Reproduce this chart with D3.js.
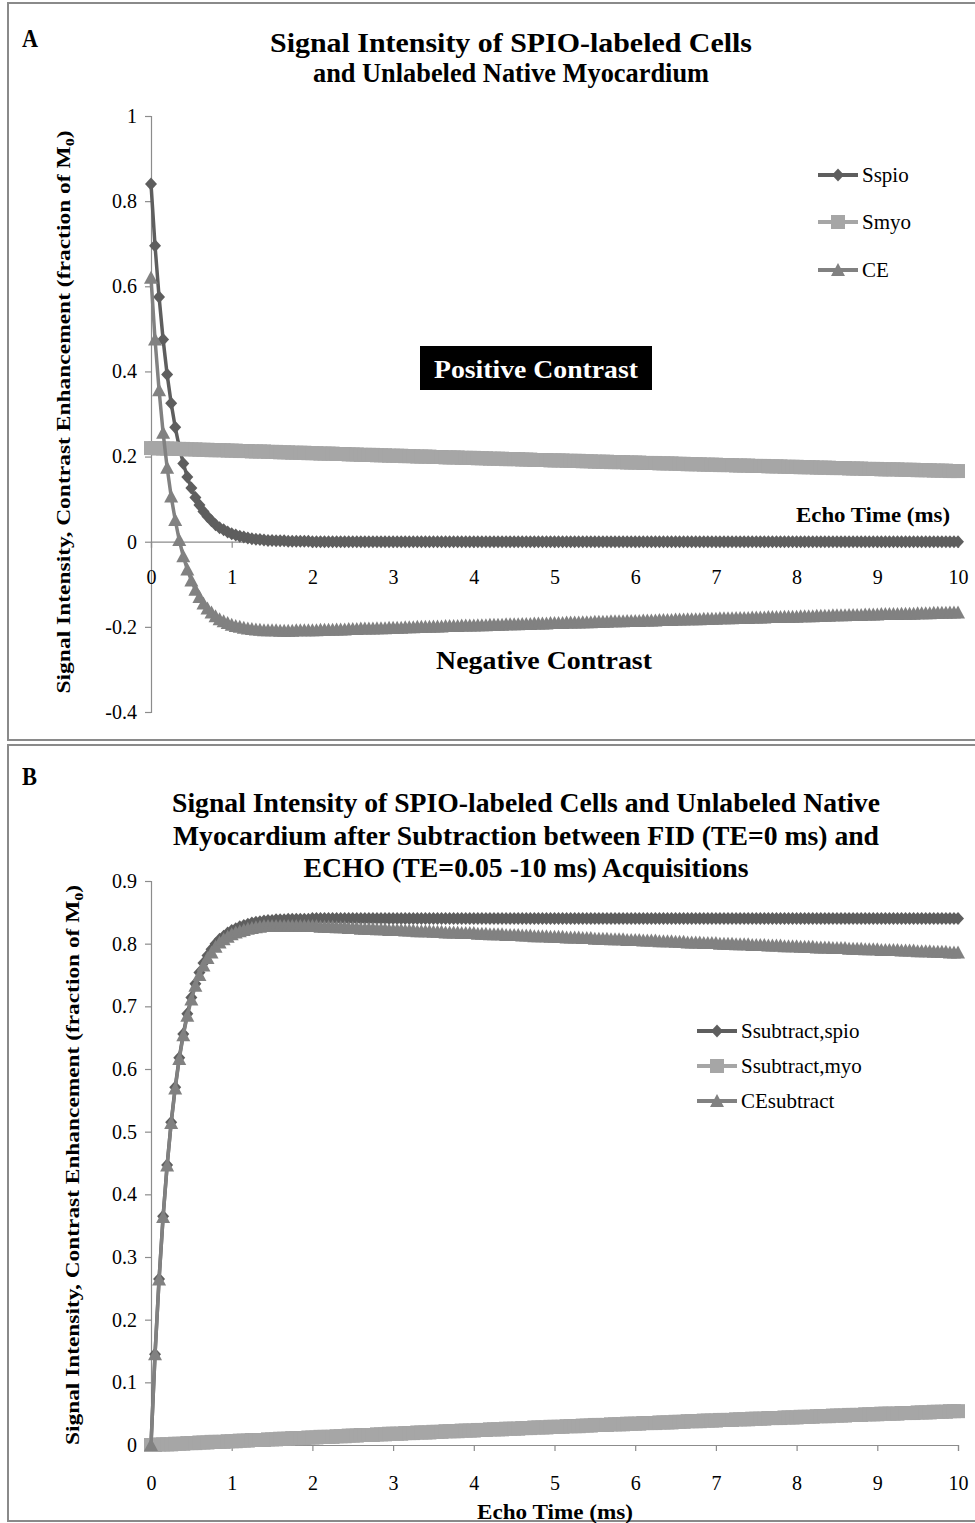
<!DOCTYPE html>
<html>
<head>
<meta charset="utf-8">
<script src="https://cdn.jsdelivr.net/npm/d3@7"></script>
<style>
body { margin: 0; background: #fff; }
svg text { font-family: "Liberation Serif", "Times New Roman", serif; }
</style>
</head>
<body>
<script>
// echo times (ms), one point every 0.05 ms
var echoTime = [
0,0.05,0.1,0.15,0.2,0.25,0.3,0.35,0.4,0.45,0.5,0.55,0.6,0.65,0.7,0.75,0.8,0.85,0.9,0.95,
1,1.05,1.1,1.15,1.2,1.25,1.3,1.35,1.4,1.45,1.5,1.55,1.6,1.65,1.7,1.75,1.8,1.85,1.9,1.95,
2,2.05,2.1,2.15,2.2,2.25,2.3,2.35,2.4,2.45,2.5,2.55,2.6,2.65,2.7,2.75,2.8,2.85,2.9,2.95,
3,3.05,3.1,3.15,3.2,3.25,3.3,3.35,3.4,3.45,3.5,3.55,3.6,3.65,3.7,3.75,3.8,3.85,3.9,3.95,
4,4.05,4.1,4.15,4.2,4.25,4.3,4.35,4.4,4.45,4.5,4.55,4.6,4.65,4.7,4.75,4.8,4.85,4.9,4.95,
5,5.05,5.1,5.15,5.2,5.25,5.3,5.35,5.4,5.45,5.5,5.55,5.6,5.65,5.7,5.75,5.8,5.85,5.9,5.95,
6,6.05,6.1,6.15,6.2,6.25,6.3,6.35,6.4,6.45,6.5,6.55,6.6,6.65,6.7,6.75,6.8,6.85,6.9,6.95,
7,7.05,7.1,7.15,7.2,7.25,7.3,7.35,7.4,7.45,7.5,7.55,7.6,7.65,7.7,7.75,7.8,7.85,7.9,7.95,
8,8.05,8.1,8.15,8.2,8.25,8.3,8.35,8.4,8.45,8.5,8.55,8.6,8.65,8.7,8.75,8.8,8.85,8.9,8.95,
9,9.05,9.1,9.15,9.2,9.25,9.3,9.35,9.4,9.45,9.5,9.55,9.6,9.65,9.7,9.75,9.8,9.85,9.9,9.95,
10];

// panel A
var sSpio = [
0.84,0.695,0.575,0.475,0.393,0.325,0.269,0.222,0.184,0.152,
0.126,0.104,0.086,0.071,0.059,0.049,0.04,0.033,0.028,0.023,
0.019,0.016,0.013,0.011,0.009,0.007,0.006,0.005,0.004,0.003,
0.003,0.002,0.002,0.002,0.001,0.001,0.001,0.001,0.001,0.001,
0,0,0,0,0,0,0,0,0,0,0,0,0,0,0,0,0,0,0,0,
0,0,0,0,0,0,0,0,0,0,0,0,0,0,0,0,0,0,0,0,
0,0,0,0,0,0,0,0,0,0,0,0,0,0,0,0,0,0,0,0,
0,0,0,0,0,0,0,0,0,0,0,0,0,0,0,0,0,0,0,0,
0,0,0,0,0,0,0,0,0,0,0,0,0,0,0,0,0,0,0,0,
0,0,0,0,0,0,0,0,0,0,0,0,0,0,0,0,0,0,0,0,
0,0,0,0,0,0,0,0,0,0,0,0,0,0,0,0,0,0,0,0,
0,0,0,0,0,0,0,0,0,0,0,0,0,0,0,0,0,0,0,0,
0];

var sMyo = [
0.22,0.22,0.219,0.219,0.219,0.219,0.218,0.218,0.218,0.217,
0.217,0.217,0.216,0.216,0.216,0.215,0.215,0.215,0.215,0.214,
0.214,0.214,0.213,0.213,0.213,0.212,0.212,0.212,0.212,0.211,
0.211,0.211,0.21,0.21,0.21,0.209,0.209,0.209,0.209,0.208,
0.208,0.208,0.207,0.207,0.207,0.207,0.206,0.206,0.206,0.205,
0.205,0.205,0.204,0.204,0.204,0.204,0.203,0.203,0.203,0.202,
0.202,0.202,0.202,0.201,0.201,0.201,0.2,0.2,0.2,0.2,
0.199,0.199,0.199,0.198,0.198,0.198,0.198,0.197,0.197,0.197,
0.197,0.196,0.196,0.196,0.195,0.195,0.195,0.195,0.194,0.194,
0.194,0.194,0.193,0.193,0.193,0.192,0.192,0.192,0.192,0.191,
0.191,0.191,0.191,0.19,0.19,0.19,0.19,0.189,0.189,0.189,
0.188,0.188,0.188,0.188,0.187,0.187,0.187,0.187,0.186,0.186,
0.186,0.186,0.185,0.185,0.185,0.185,0.184,0.184,0.184,0.184,
0.183,0.183,0.183,0.182,0.182,0.182,0.182,0.181,0.181,0.181,
0.181,0.18,0.18,0.18,0.18,0.179,0.179,0.179,0.179,0.178,
0.178,0.178,0.178,0.177,0.177,0.177,0.177,0.176,0.176,0.176,
0.176,0.175,0.175,0.175,0.175,0.174,0.174,0.174,0.174,0.173,
0.173,0.173,0.173,0.172,0.172,0.172,0.172,0.171,0.171,0.171,
0.171,0.17,0.17,0.17,0.17,0.17,0.169,0.169,0.169,0.169,
0.168,0.168,0.168,0.168,0.167,0.167,0.167,0.167,0.166,0.166,
0.166];

var ce = [
0.62,0.475,0.356,0.256,0.174,0.106,0.051,0.004,-0.034,-0.065,
-0.091,-0.113,-0.13,-0.145,-0.157,-0.166,-0.175,-0.182,-0.187,-0.191,
-0.195,-0.198,-0.2,-0.202,-0.204,-0.205,-0.206,-0.207,-0.208,-0.208,
-0.208,-0.208,-0.209,-0.209,-0.209,-0.209,-0.208,-0.208,-0.208,-0.208,
-0.208,-0.208,-0.207,-0.207,-0.207,-0.207,-0.206,-0.206,-0.206,-0.205,
-0.205,-0.205,-0.204,-0.204,-0.204,-0.204,-0.203,-0.203,-0.203,-0.202,
-0.202,-0.202,-0.202,-0.201,-0.201,-0.201,-0.2,-0.2,-0.2,-0.2,
-0.199,-0.199,-0.199,-0.198,-0.198,-0.198,-0.198,-0.197,-0.197,-0.197,
-0.197,-0.196,-0.196,-0.196,-0.195,-0.195,-0.195,-0.195,-0.194,-0.194,
-0.194,-0.194,-0.193,-0.193,-0.193,-0.192,-0.192,-0.192,-0.192,-0.191,
-0.191,-0.191,-0.191,-0.19,-0.19,-0.19,-0.19,-0.189,-0.189,-0.189,
-0.188,-0.188,-0.188,-0.188,-0.187,-0.187,-0.187,-0.187,-0.186,-0.186,
-0.186,-0.186,-0.185,-0.185,-0.185,-0.185,-0.184,-0.184,-0.184,-0.184,
-0.183,-0.183,-0.183,-0.182,-0.182,-0.182,-0.182,-0.181,-0.181,-0.181,
-0.181,-0.18,-0.18,-0.18,-0.18,-0.179,-0.179,-0.179,-0.179,-0.178,
-0.178,-0.178,-0.178,-0.177,-0.177,-0.177,-0.177,-0.176,-0.176,-0.176,
-0.176,-0.175,-0.175,-0.175,-0.175,-0.174,-0.174,-0.174,-0.174,-0.173,
-0.173,-0.173,-0.173,-0.172,-0.172,-0.172,-0.172,-0.171,-0.171,-0.171,
-0.171,-0.17,-0.17,-0.17,-0.17,-0.17,-0.169,-0.169,-0.169,-0.169,
-0.168,-0.168,-0.168,-0.168,-0.167,-0.167,-0.167,-0.167,-0.166,-0.166,
-0.166];

// panel B
var subSpio = [
0,0.145,0.265,0.365,0.447,0.515,0.571,0.618,0.656,0.688,
0.714,0.736,0.754,0.769,0.781,0.791,0.8,0.807,0.812,0.817,
0.821,0.824,0.827,0.829,0.831,0.833,0.834,0.835,0.836,0.837,
0.837,0.838,0.838,0.838,0.839,0.839,0.839,0.839,0.839,0.839,
0.84,0.84,0.84,0.84,0.84,0.84,0.84,0.84,0.84,0.84,0.84,0.84,0.84,0.84,0.84,0.84,0.84,0.84,0.84,0.84,
0.84,0.84,0.84,0.84,0.84,0.84,0.84,0.84,0.84,0.84,0.84,0.84,0.84,0.84,0.84,0.84,0.84,0.84,0.84,0.84,
0.84,0.84,0.84,0.84,0.84,0.84,0.84,0.84,0.84,0.84,0.84,0.84,0.84,0.84,0.84,0.84,0.84,0.84,0.84,0.84,
0.84,0.84,0.84,0.84,0.84,0.84,0.84,0.84,0.84,0.84,0.84,0.84,0.84,0.84,0.84,0.84,0.84,0.84,0.84,0.84,
0.84,0.84,0.84,0.84,0.84,0.84,0.84,0.84,0.84,0.84,0.84,0.84,0.84,0.84,0.84,0.84,0.84,0.84,0.84,0.84,
0.84,0.84,0.84,0.84,0.84,0.84,0.84,0.84,0.84,0.84,0.84,0.84,0.84,0.84,0.84,0.84,0.84,0.84,0.84,0.84,
0.84,0.84,0.84,0.84,0.84,0.84,0.84,0.84,0.84,0.84,0.84,0.84,0.84,0.84,0.84,0.84,0.84,0.84,0.84,0.84,
0.84,0.84,0.84,0.84,0.84,0.84,0.84,0.84,0.84,0.84,0.84,0.84,0.84,0.84,0.84,0.84,0.84,0.84,0.84,0.84,
0.84];

var subMyo = [
0,0,0.001,0.001,0.001,0.001,0.002,0.002,0.002,0.003,
0.003,0.003,0.004,0.004,0.004,0.005,0.005,0.005,0.005,0.006,
0.006,0.006,0.007,0.007,0.007,0.008,0.008,0.008,0.008,0.009,
0.009,0.009,0.01,0.01,0.01,0.011,0.011,0.011,0.011,0.012,
0.012,0.012,0.013,0.013,0.013,0.013,0.014,0.014,0.014,0.015,
0.015,0.015,0.016,0.016,0.016,0.016,0.017,0.017,0.017,0.018,
0.018,0.018,0.018,0.019,0.019,0.019,0.02,0.02,0.02,0.02,
0.021,0.021,0.021,0.022,0.022,0.022,0.022,0.023,0.023,0.023,
0.023,0.024,0.024,0.024,0.025,0.025,0.025,0.025,0.026,0.026,
0.026,0.026,0.027,0.027,0.027,0.028,0.028,0.028,0.028,0.029,
0.029,0.029,0.029,0.03,0.03,0.03,0.03,0.031,0.031,0.031,
0.032,0.032,0.032,0.032,0.033,0.033,0.033,0.033,0.034,0.034,
0.034,0.034,0.035,0.035,0.035,0.035,0.036,0.036,0.036,0.036,
0.037,0.037,0.037,0.038,0.038,0.038,0.038,0.039,0.039,0.039,
0.039,0.04,0.04,0.04,0.04,0.041,0.041,0.041,0.041,0.042,
0.042,0.042,0.042,0.043,0.043,0.043,0.043,0.044,0.044,0.044,
0.044,0.045,0.045,0.045,0.045,0.046,0.046,0.046,0.046,0.047,
0.047,0.047,0.047,0.048,0.048,0.048,0.048,0.049,0.049,0.049,
0.049,0.05,0.05,0.05,0.05,0.05,0.051,0.051,0.051,0.051,
0.052,0.052,0.052,0.052,0.053,0.053,0.053,0.053,0.054,0.054,
0.054];

var ceSub = [
0,0.145,0.264,0.364,0.446,0.514,0.569,0.616,0.654,0.685,
0.711,0.733,0.75,0.765,0.777,0.786,0.795,0.802,0.807,0.811,
0.815,0.818,0.82,0.822,0.824,0.825,0.826,0.827,0.828,0.828,
0.828,0.828,0.828,0.828,0.828,0.828,0.828,0.828,0.828,0.828,
0.828,0.828,0.827,0.827,0.827,0.827,0.826,0.826,0.826,0.825,
0.825,0.825,0.824,0.824,0.824,0.824,0.823,0.823,0.823,0.822,
0.822,0.822,0.822,0.821,0.821,0.821,0.82,0.82,0.82,0.82,
0.819,0.819,0.819,0.818,0.818,0.818,0.818,0.817,0.817,0.817,
0.817,0.816,0.816,0.816,0.815,0.815,0.815,0.815,0.814,0.814,
0.814,0.814,0.813,0.813,0.813,0.812,0.812,0.812,0.812,0.811,
0.811,0.811,0.811,0.81,0.81,0.81,0.81,0.809,0.809,0.809,
0.808,0.808,0.808,0.808,0.807,0.807,0.807,0.807,0.806,0.806,
0.806,0.806,0.805,0.805,0.805,0.805,0.804,0.804,0.804,0.804,
0.803,0.803,0.803,0.802,0.802,0.802,0.802,0.801,0.801,0.801,
0.801,0.8,0.8,0.8,0.8,0.799,0.799,0.799,0.799,0.798,
0.798,0.798,0.798,0.797,0.797,0.797,0.797,0.796,0.796,0.796,
0.796,0.795,0.795,0.795,0.795,0.794,0.794,0.794,0.794,0.793,
0.793,0.793,0.793,0.792,0.792,0.792,0.792,0.791,0.791,0.791,
0.791,0.79,0.79,0.79,0.79,0.79,0.789,0.789,0.789,0.789,
0.788,0.788,0.788,0.788,0.787,0.787,0.787,0.787,0.786,0.786,
0.786];

var xTicks = [0,1,2,3,4,5,6,7,8,9,10];
var yTicksA = [-0.4,-0.2,0,0.2,0.4,0.6,0.8,1];
var yTicksB = [0,0.1,0.2,0.3,0.4,0.5,0.6,0.7,0.8,0.9];

[sSpio, sMyo, ce, subSpio, subMyo, ceSub].forEach(function(a, i){
	if (a.length !== echoTime.length) throw new Error("series " + i + " has " + a.length + " points");
});

var colDark = "#5e5e5e", colLight = "#a6a6a6", colMid = "#818181";

var markers = {
	diamond: "M0,-6.5L6,0L0,6.5L-6,0Z",
	square: "M-7,-7h14v14h-14Z",
	triangle: "M0,-7L7,6L-7,6Z"
};

var svg = d3.select("body").append("svg")
	.attr("width", 975)
	.attr("height", 1523);

// panel frames
svg.append("rect").attr("x", 8).attr("y", 3).attr("width", 980).attr("height", 737)
	.attr("fill", "none").attr("stroke", "#8a8a8a").attr("stroke-width", 2);
svg.append("rect").attr("x", 8).attr("y", 745).attr("width", 980).attr("height", 776)
	.attr("fill", "none").attr("stroke", "#8a8a8a").attr("stroke-width", 2);

function addText(g, txt, x, y, size, opts){
	opts = opts || {};
	var t = g.append("text")
		.attr("x", x).attr("y", y)
		.attr("font-size", size)
		.attr("font-weight", opts.bold ? "bold" : "normal")
		.attr("text-anchor", opts.anchor || "middle")
		.attr("fill", opts.fill || "#000")
		.text(txt);
	if (opts.len) t.attr("textLength", opts.len).attr("lengthAdjust", "spacingAndGlyphs");
	return t;
}

function drawSeries(g, x, y, vals, color, marker, lw){
	var pts = echoTime.map(function(t, i){ return [t, vals[i]]; });
	var line = d3.line().x(function(d){ return x(d[0]); }).y(function(d){ return y(d[1]); });
	g.append("path").datum(pts)
		.attr("d", line)
		.attr("fill", "none")
		.attr("stroke", color)
		.attr("stroke-width", lw);
	g.append("g").selectAll("path").data(pts).enter().append("path")
		.attr("d", markers[marker])
		.attr("transform", function(d){ return `translate(${x(d[0])},${y(d[1])})`; })
		.attr("fill", color);
}

function styleAxis(ax){
	ax.select(".domain").attr("stroke", "#8c8c8c").attr("stroke-width", 1.2);
	ax.selectAll(".tick line").attr("stroke", "#8c8c8c").attr("stroke-width", 1.2);
	ax.selectAll(".tick text")
		.attr("font-family", "Liberation Serif, Times New Roman, serif")
		.attr("font-size", 20).attr("fill", "#000");
	ax.attr("font-family", null).attr("font-size", null);
}

function drawLegend(g, items, x0, ys){
	items.forEach(function(it, i){
		g.append("line").attr("x1", x0).attr("x2", x0 + 40).attr("y1", ys[i]).attr("y2", ys[i])
			.attr("stroke", it.color).attr("stroke-width", 4);
		g.append("path").attr("d", markers[it.marker])
			.attr("transform", `translate(${x0 + 20},${ys[i]})`).attr("fill", it.color);
		addText(g, it.name, x0 + 44, ys[i] + 7, 21, {anchor: "start"});
	});
}

function yLabel(g, cx, cy, len){
	var t = g.append("text")
		.attr("transform", `translate(${cx},${cy}) rotate(-90)`)
		.attr("text-anchor", "middle")
		.attr("font-size", 19).attr("font-weight", "bold")
		.attr("textLength", len).attr("lengthAdjust", "spacingAndGlyphs");
	t.append("tspan").text("Signal Intensity, Contrast Enhancement (fraction of M");
	t.append("tspan").attr("font-size", 13).attr("dy", 4).text("0");
	t.append("tspan").attr("dy", -4).text(")");
}

/* ---------- panel A ---------- */
var gA = svg.append("g");
var xA = d3.scaleLinear().domain([0, 10]).range([151, 958]);
var yA = d3.scaleLinear().domain([-0.4, 1]).range([712, 116]);

addText(gA, "A", 22, 47, 25, {bold: true, anchor: "start", len: 16});
addText(gA, "Signal Intensity  of SPIO-labeled  Cells", 511, 52, 27, {bold: true, len: 482});
addText(gA, "and Unlabeled Native Myocardium", 511, 82, 27, {bold: true, len: 396});

var axYA = gA.append("g").attr("transform", "translate(151,0)")
	.call(d3.axisLeft(yA).tickValues(yTicksA).tickSize(6).tickPadding(8).tickFormat(function(d){ return String(d); }));
styleAxis(axYA);
var axXA = gA.append("g").attr("transform", `translate(0,${yA(0)})`)
	.call(d3.axisBottom(xA).tickValues(xTicks).tickSize(6).tickPadding(22).tickSizeOuter(6));
styleAxis(axXA);

yLabel(gA, 70, 412, 563);

drawSeries(gA, xA, yA, sSpio, colDark, "diamond", 3.5);
drawSeries(gA, xA, yA, sMyo, colLight, "square", 3.5);
drawSeries(gA, xA, yA, ce, colMid, "triangle", 3.5);

drawLegend(gA, [
	{name: "Sspio", color: colDark, marker: "diamond"},
	{name: "Smyo", color: colLight, marker: "square"},
	{name: "CE", color: colMid, marker: "triangle"}
], 818, [175, 222, 270]);

gA.append("rect").attr("x", 420).attr("y", 346).attr("width", 232).attr("height", 44).attr("fill", "#000");
addText(gA, "Positive Contrast", 536, 378, 26, {bold: true, fill: "#fff", len: 204});
addText(gA, "Negative Contrast", 544, 669, 26, {bold: true, len: 216});
addText(gA, "Echo Time (ms)", 950, 522, 20, {bold: true, anchor: "end", len: 154});

/* ---------- panel B ---------- */
var gB = svg.append("g");
var xB = d3.scaleLinear().domain([0, 10]).range([151, 958]);
var yB = d3.scaleLinear().domain([0, 0.9]).range([1445, 881]);

addText(gB, "B", 22, 785, 25, {bold: true, anchor: "start", len: 15});
addText(gB, "Signal Intensity of SPIO-labeled Cells and Unlabeled Native", 526, 812, 27, {bold: true, len: 708});
addText(gB, "Myocardium after Subtraction between FID (TE=0 ms) and", 526, 845, 27, {bold: true, len: 706});
addText(gB, "ECHO (TE=0.05 -10 ms) Acquisitions", 526, 877, 27, {bold: true, len: 445});

var axYB = gB.append("g").attr("transform", "translate(151,0)")
	.call(d3.axisLeft(yB).tickValues(yTicksB).tickSize(6).tickPadding(8).tickFormat(function(d){ return String(d); }));
styleAxis(axYB);
var axXB = gB.append("g").attr("transform", `translate(0,${yB(0)})`)
	.call(d3.axisBottom(xB).tickValues(xTicks).tickSize(6).tickPadding(25));
styleAxis(axXB);

yLabel(gB, 79, 1165, 560);
addText(gB, "Echo Time (ms)", 555, 1519, 20, {bold: true, len: 156});

drawSeries(gB, xB, yB, subSpio, colDark, "diamond", 3.5);
drawSeries(gB, xB, yB, subMyo, colLight, "square", 3.5);
drawSeries(gB, xB, yB, ceSub, colMid, "triangle", 3.5);

drawLegend(gB, [
	{name: "Ssubtract,spio", color: colDark, marker: "diamond"},
	{name: "Ssubtract,myo", color: colLight, marker: "square"},
	{name: "CEsubtract", color: colMid, marker: "triangle"}
], 697, [1031, 1066, 1101]);
</script>
</body>
</html>
